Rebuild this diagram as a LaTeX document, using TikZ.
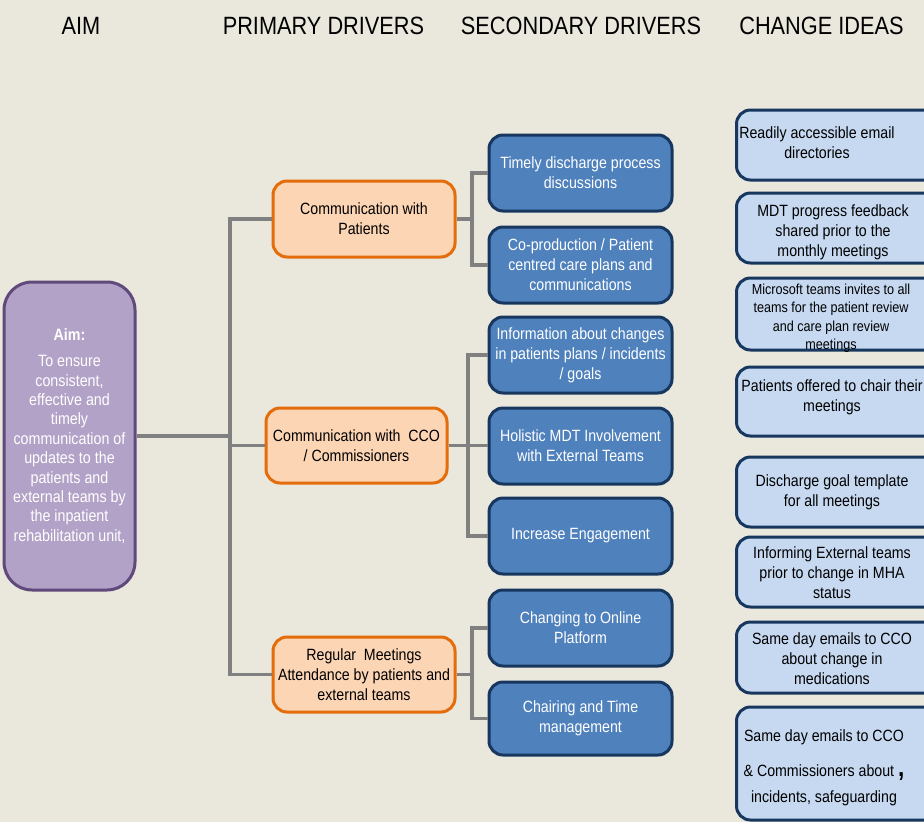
\documentclass[tikz,border=0pt]{standalone}
\usepackage{fontspec}
\setmainfont{Liberation Sans}[FakeStretch=0.87]
\definecolor{bgclr}{HTML}{EAE7DD}
\definecolor{aimfill}{HTML}{B3A2C7}
\definecolor{aimedge}{HTML}{604A7B}
\definecolor{prifill}{HTML}{FCD5B5}
\definecolor{priedge}{HTML}{E46C0A}
\definecolor{secfill}{HTML}{4F81BD}
\definecolor{secedge}{HTML}{17375E}
\definecolor{ideafill}{HTML}{C6D9F1}
\definecolor{connclr}{HTML}{808080}
\begin{document}
\begin{tikzpicture}[x=1pt,y=-1pt,
  box/.style={rectangle, rounded corners=14pt, line width=3pt, align=center, inner sep=2pt,
    font=\fontsize{16.3}{20}\selectfont},
  aimbox/.style={box, fill=aimfill, draw=aimedge, rounded corners=28pt, text=white,
    minimum width=131pt, minimum height=308pt, font=\fontsize{16.4}{19.4}\selectfont},
  primary/.style={box, fill=prifill, draw=priedge, text=black, minimum width=182pt, minimum height=76pt},
  secondary/.style={box, fill=secfill, draw=secedge, text=white, minimum width=183pt, minimum height=76pt},
  idea/.style={box, fill=ideafill, draw=secedge, minimum width=215pt, anchor=west},
  ideatext/.style={align=center, inner sep=0pt, text=black, font=\fontsize{16.3}{20}\selectfont},
  head/.style={anchor=base, font=\fontsize{25}{30}\selectfont},
  conn/.style={draw=connclr, line width=3.2pt}
]
% page and background
\useasboundingbox (0,0) rectangle (924,822);
\fill[bgclr] (0,0) rectangle (924,822);
\clip (0,0) rectangle (924,822);

% column headings
\node[head] (hAim) at (81,34) {AIM};
\node[head] (hPri) at (323.5,34) {PRIMARY DRIVERS};
\node[head] (hSec) at (581,34) {SECONDARY DRIVERS};
\node[head] (hIdea) at (821.5,34) {CHANGE IDEAS};

% aim
\node[aimbox] (aim) at (69.5,436) {{\bfseries Aim:}\\[7pt]To ensure\\consistent,\\effective and\\timely\\communication of\\updates to the\\patients and\\external teams by\\the inpatient\\rehabilitation unit,};

% primary drivers
\node[primary] (p1) at (364,219) {Communication with\\Patients};
\node[primary, minimum width=181pt, minimum height=75pt] (p2) at (356.5,445.5) {Communication with\ \ CCO\\/ Commissioners};
\node[primary, minimum height=75pt] (p3) at (364,674.5) {Regular\ \ Meetings\\Attendance by patients and\\external teams};

% secondary drivers
\node[secondary] (s1) at (580.5,173) {Timely discharge process\\discussions};
\node[secondary] (s2) at (580.5,265) {Co-production / Patient\\centred care plans and\\communications};
\node[secondary] (s3) at (580.5,355) {Information about changes\\in patients plans / incidents\\/ goals};
\node[secondary] (s4) at (580.5,446) {Holistic MDT Involvement\\with External Teams};
\node[secondary] (s5) at (580.5,536) {Increase Engagement};
\node[secondary] (s6) at (580.5,628) {Changing to Online\\Platform};
\node[secondary, minimum height=73pt] (s7) at (580.5,718.5) {Chairing and Time\\management};

% change ideas
\node[idea, minimum height=70pt] (c1) at (735,145) {};
\node[ideatext] (c1t) at (817,143) {Readily accessible email\\directories};
\node[idea, minimum height=70pt] (c2) at (735,228) {};
\node[ideatext] (c2t) at (833,232) {MDT progress feedback\\shared prior to the\\monthly meetings};
\node[idea, minimum height=72pt] (c3) at (735,314) {};
\node[ideatext, font=\fontsize{14.5}{18.5}\selectfont] (c3t) at (831,318) {Microsoft teams invites to all\\teams for the patient review\\and care plan review\\meetings};
\node[idea, minimum height=69pt] (c4) at (735,401.5) {};
\node[ideatext] (c4t) at (832,397) {Patients offered to chair their\\meetings};
\node[idea, minimum height=70pt] (c5) at (735,492) {};
\node[ideatext] (c5t) at (832,492.5) {Discharge goal template\\for all meetings};
\node[idea, minimum height=70pt] (c6) at (735,572) {};
\node[ideatext] (c6t) at (832,573) {Informing External teams\\prior to change in MHA\\status};
\node[idea, minimum height=71pt] (c7) at (735,657.5) {};
\node[ideatext] (c7t) at (832,659) {Same day emails to CCO\\about change in\\medications};
\node[idea, minimum height=113pt] (c8) at (735,763.5) {};
\node[ideatext] (c8t) at (824,768) {Same day emails to CCO\\[15pt]\& Commissioners about {\fontsize{26}{20}\selectfont\bfseries ,}\\[6pt]incidents, safeguarding};

% connectors: aim to primary drivers
\coordinate (tA) at (230,434);
\draw[conn] (aim.east) -- (aim.east -| tA);
\draw[conn] (p1.west) -| (tA) |- (p3.west);
\draw[conn] (p2.west) -- (p2.west -| tA);

% connectors: primary to secondary drivers
\coordinate (j1) at (472,219);
\draw[conn] (p1.east) -- (j1);
\draw[conn] (s1.west) -| (j1) |- (s2.west);

\coordinate (j2) at (468,446);
\draw[conn] (p2.east) -- (p2.east -| s4.west);
\draw[conn] (s3.west) -| (j2) |- (s5.west);

\coordinate (j3) at (472,674.5);
\draw[conn] (p3.east) -- (j3);
\draw[conn] (s6.west) -| (j3) |- (s7.west);
\end{tikzpicture}
\end{document}
